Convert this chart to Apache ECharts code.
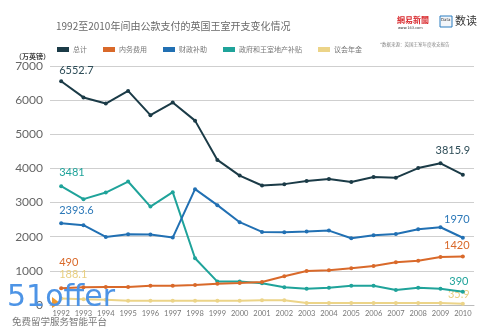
<!DOCTYPE html>
<html><head><meta charset="utf-8">
<script src="https://cdn.jsdelivr.net/npm/echarts@6/dist/echarts.min.js"></script>
<style>html,body{margin:0;padding:0;background:#fff}#c{width:500px;height:333px}</style>
</head><body><div id="c"></div>
<script>
var years = ['1992','1993','1994','1995','1996','1997','1998','1999','2000','2001','2002','2003','2004','2005','2006','2007','2008','2009','2010'];
var total = [6552.7, 6080, 5900, 6270, 5560, 5930, 5400, 4250, 3790, 3500, 3540, 3630, 3690, 3600, 3750, 3730, 4010, 4150, 3815.9];
var household = [490, 519, 528, 528, 566, 566, 586, 625, 645, 674, 841, 997, 1017, 1076, 1144, 1252, 1299, 1408, 1420];
var grantAid = [2393.6, 2337, 1994, 2073, 2062, 1974, 3393, 2924, 2425, 2141, 2131, 2150, 2179, 1955, 2043, 2082, 2220, 2278, 1970];
var propertyAid = [3481, 3100, 3293, 3616, 2883, 3305, 1369, 685, 685, 636, 519, 478, 507, 566, 566, 440, 507, 478, 390];
var civilList = [188.1, 170, 155, 126, 126, 126, 126, 126, 126, 136, 136, 59, 59, 59, 59, 59, 59, 59, 35.9];
var seriesNames = ['总计','内务费用','财政补助','政府和王室地产补贴','议会年金'];
var yTicks = [0,1000,2000,3000,4000,5000,6000,7000];

var colors = ['#1b3b47','#d9692a','#2170b3','#1fa39a','#ecd488'];
var labelColors = ['#2e4d58','#d9692a','#2c78b8','#1fa39a','#e8cf80'];
// label offsets [first, last] as [dx, dy]
var offs = [
  [[-2, 2], [-10, -12]],
  [[-2, -13], [-6, 1.5]],
  [[-2, 0], [-6, -6]],
  [[-2, -1], [-4, 2]],
  [[-2, -12], [-4, 3.5]]
];
function build(arr, i){
  return arr.map(function(v, k){
    if (k === 0) return {value: v, label: {show: true, position: 'top', align: 'left', offset: offs[i][0], color: labelColors[i], fontSize: 11, fontFamily: 'Lato'}};
    if (k === arr.length-1) return {value: v, label: {show: true, position: 'top', align: 'center', offset: offs[i][1], color: labelColors[i], fontSize: 11, fontFamily: 'Lato'}};
    return v;
  });
}
var all = [total, household, grantAid, propertyAid, civilList];
var series = all.map(function(arr, i){
  return {
    name: seriesNames[i], type: 'line', data: build(arr, i),
    symbol: 'circle', symbolSize: 4, showSymbol: true,
    lineStyle: {width: 2, color: colors[i]}, itemStyle: {color: colors[i]},
    label: {show: false}, animation: false, z: 5 - i
  };
});

var chart = echarts.init(document.getElementById('c'), null, {renderer: 'canvas'});
chart.setOption({
  animation: false,
  color: colors,
  title: {text: '1992至2010年间由公款支付的英国王室开支变化情况', left: 51, top: 16,
    textStyle: {fontSize: 10, fontWeight: 'normal', color: '#6a6a6a', fontFamily: 'Noto Sans CJK SC'}},
  legend: {left: 52, top: 41, itemWidth: 12, itemHeight: 5, itemGap: 16, icon: 'rect',
    textStyle: {fontSize: 7, color: '#777', fontFamily: 'Noto Sans CJK SC', padding: [0,0,0,-1]},
    data: seriesNames},
  grid: {left: 50, right: 26, top: 66, bottom: 28, containLabel: false},
  xAxis: {type: 'category', data: years, boundaryGap: true,
    axisLine: {lineStyle: {color: '#bbb'}}, axisTick: {show: false},
    axisLabel: {fontSize: 7.5, color: '#777', margin: 5, interval: 0, fontFamily: 'Lato'}},
  yAxis: {type: 'value', min: 0, max: 7000, interval: 1000,
    axisLine: {show: false}, axisTick: {show: false},
    axisLabel: {fontSize: 12, color: '#666', margin: 7, fontFamily: 'Lato',
      formatter: function(v){ return yTicks.indexOf(v) >= 0 ? String(v) : ''; }},
    splitLine: {lineStyle: {color: '#cfcfcf', width: 1}}},
  graphic: [
    {type: 'text', left: 15, top: 53, style: {text: '（万英镑）', fontSize: 7, fill: '#444', fontWeight: 'bold', fontFamily: 'Noto Sans CJK SC'}},
    {type: 'text', left: 380, top: 42, style: {text: '*数据来源：英国王室年度收支报告', fontSize: 4.5, fill: '#888', fontFamily: 'Noto Sans CJK SC'}},
    {type: 'text', left: 397, top: 16, style: {text: '網易新聞', fontSize: 8, fill: '#d8262a', fontWeight: 'bold', fontFamily: 'Noto Sans CJK SC'}},
    {type: 'text', left: 398, top: 26, style: {text: 'www.163.com', fontSize: 3.5, fill: '#333', fontFamily: 'DejaVu Sans'}},
    {type: 'rect', shape: {x: 440, y: 16, width: 12, height: 11}, style: {fill: '#f3f6fa', stroke: '#2a7dc0', lineWidth: 1}},
    {type: 'text', left: 441, top: 18, style: {text: 'Data', fontSize: 4, fill: '#333', fontFamily: 'DejaVu Sans'}},
    {type: 'text', left: 455, top: 15, style: {text: '数读', fontSize: 11, fill: '#333', fontFamily: 'Noto Sans CJK SC'}},
    {type: 'polygon', z: 100, shape: {points: [[52, 297], [60, 303], [52, 308]]}, style: {fill: '#f39a2c'}},
    {type: 'text', z: 100, left: 7, top: 283, style: {text: '51offer', fontSize: 30, fill: '#4d94e6', fontFamily: 'DejaVu Sans', fontWeight: 'normal'}},
    {type: 'text', z: 100, left: 12, top: 317, style: {text: '免费留学服务智能平台', fontSize: 9.5, fill: '#777', fontFamily: 'Noto Sans CJK SC'}}
  ],
  series: series
});
</script></body></html>
